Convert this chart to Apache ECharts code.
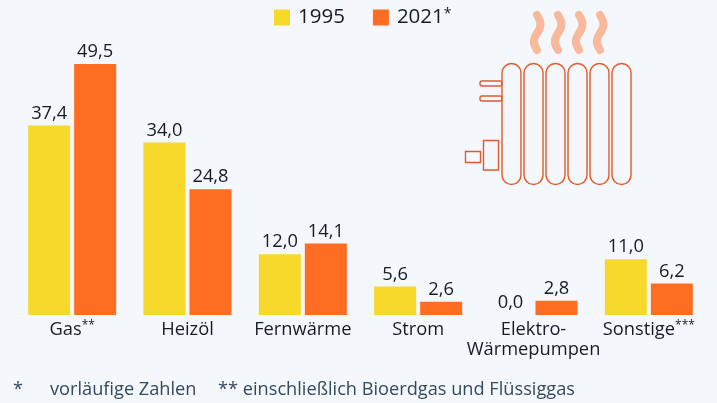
<!DOCTYPE html>
<html><head><meta charset="utf-8">
<style>html,body{margin:0;padding:0;background:#f4f7fb}#c{width:717px;height:403px}</style>
<script src="https://cdn.jsdelivr.net/npm/echarts@6/dist/echarts.min.js"></script>
</head><body><div id="c"></div>
<script>
const categories = ['Gas{s|**}', 'Heizöl', 'Fernwärme', 'Strom', 'Elektro-\nWärmepumpen', 'Sonstige{s|***}'];
const values1995 = [37.4, 34.0, 12.0, 5.6, 0.0, 11.0];
const values2021 = [49.5, 24.8, 14.1, 2.6, 2.8, 6.2];
const seriesNames = ['1995', '2021'];
const footnotes = ['*', 'vorläufige Zahlen', '** einschließlich Bioerdgas und Flüssiggas'];
const FONT = '"Open Sans"';
const INK = '#141c26';
const fmt = p => p.value.toFixed(1).replace('.', ',');
const lbl = {show:true, position:'top', distance:3, formatter:fmt, color:INK, fontFamily:FONT, fontSize:18.3};
const coral = '#e2592b';
const g = [];
[502,524,546,568,590,612].forEach(x => g.push({type:'rect', shape:{x:x,y:63.5,width:19,height:121,r:9.5}, style:{fill:'none',stroke:coral,lineWidth:1.4}}));
[[480,81],[480,96]].forEach(p => g.push({type:'rect', shape:{x:p[0],y:p[1],width:22,height:5,r:2}, style:{fill:'none',stroke:coral,lineWidth:1.4}}));
g.push({type:'rect', shape:{x:483.5,y:140.5,width:15,height:29.5}, style:{fill:'none',stroke:coral,lineWidth:1.4}});
g.push({type:'rect', shape:{x:465.5,y:151.5,width:15,height:11}, style:{fill:'none',stroke:coral,lineWidth:1.4}});
const waveStyle = {fill:'none',stroke:'#f9b99c',lineWidth:8,lineCap:'round'};
[0,21,42,63].forEach(dx => {
  g.push({type:'bezierCurve', x:dx, shape:{x1:537,y1:15,cpx1:540,cpy1:20,cpx2:542,cpy2:24,x2:539,y2:30}, style:waveStyle});
  g.push({type:'bezierCurve', x:dx, shape:{x1:539,y1:30,cpx1:536,cpy1:35,cpx2:533,cpy2:38,x2:534,y2:43}, style:waveStyle});
  g.push({type:'bezierCurve', x:dx, shape:{x1:534,y1:43,cpx1:534.5,cpy1:46,cpx2:536,cpy2:48,x2:537,y2:50}, style:waveStyle});
});
const ft = {fontFamily:FONT, fontSize:18.2, fill:'#35495e', textVerticalAlign:'middle'};
g.push({type:'text', x:13, y:390, style:{...ft, text:footnotes[0]}});
g.push({type:'text', x:50, y:390, style:{...ft, text:footnotes[1]}});
g.push({type:'text', x:218, y:390, style:{...ft, text:footnotes[2]}});
const chart = echarts.init(document.getElementById('c'), null, {renderer:'canvas'});
chart.setOption({
  animation:false,
  backgroundColor:'#f4f7fb',
  grid:{left:14.5, width:692, top:61.5, height:253.5},
  legend:{
    top:2, left:269, itemWidth:16, itemHeight:16, itemGap:28, icon:'rect',
    data:seriesNames,
    formatter:n => n === '2021' ? n + '{s|*}' : n,
    textStyle:{fontFamily:FONT, fontSize:20.5, color:INK, padding:[0,0,0,3],
      rich:{s:{fontFamily:FONT, fontSize:14, verticalAlign:'top', lineHeight:17, color:INK}}}
  },
  xAxis:{type:'category', data:categories, axisLine:{show:false}, axisTick:{show:false},
    axisLabel:{interval:0, margin:5, color:INK, fontFamily:FONT, fontSize:18.3, lineHeight:20, verticalAlign:'top',
      rich:{s:{fontFamily:FONT, fontSize:12, verticalAlign:'top', lineHeight:17, color:INK}}}},
  yAxis:{type:'value', min:0, max:50, show:false, splitLine:{show:false}},
  series:[
    {name:seriesNames[0], type:'bar', data:values1995, barWidth:42, barGap:'9.5%', itemStyle:{color:'#f7d92b'}, label:lbl},
    {name:seriesNames[1], type:'bar', data:values2021, barWidth:42, itemStyle:{color:'#ff6d22'}, label:lbl}
  ],
  graphic:{elements:g}
});
</script></body></html>
